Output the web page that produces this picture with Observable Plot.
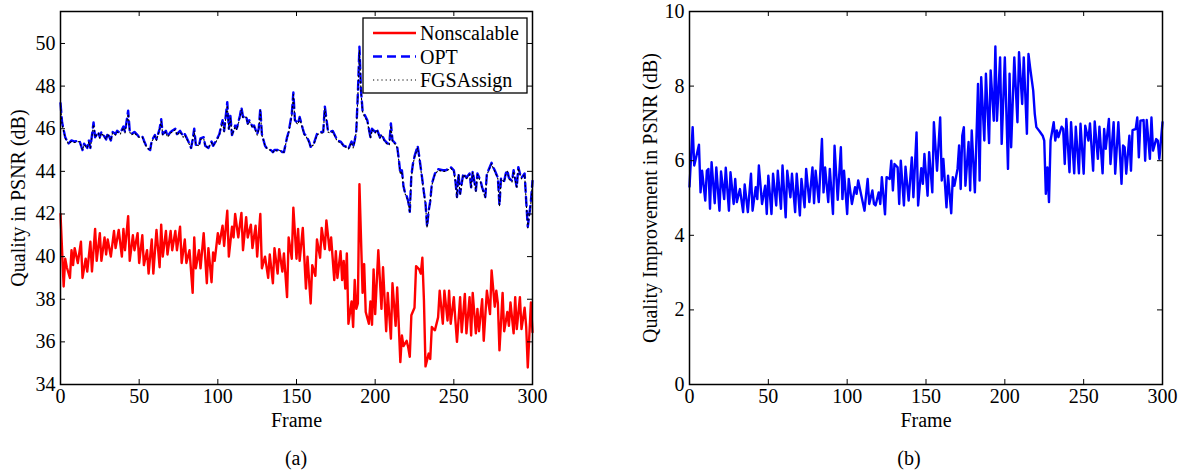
<!DOCTYPE html>
<html><head><meta charset="utf-8">
<script src="https://cdn.jsdelivr.net/npm/d3@7"></script>
<script src="https://cdn.jsdelivr.net/npm/@observablehq/plot@0.6"></script>
<style>
body{margin:0;background:#fff;}
#wrap{position:relative;width:1179px;height:471px;font-family:'Liberation Serif','DejaVu Serif',serif;color:#000;overflow:hidden;}
#wrap > svg, #wrap > div{position:absolute;top:0;}
#wrap svg text{font-family:'Liberation Serif','DejaVu Serif',serif !important;}
.cap{font-size:20px;transform:translate(-50%,-50%);white-space:nowrap;}
</style></head><body><div id="wrap"></div>
<script>
const xTicks = [0,50,100,150,200,250,300];
const yTicksA = [34,36,38,40,42,44,46,48,50];
const yTicksB = [0,2,4,6,8,10];
const seriesNames = ["Nonscalable","OPT","FGSAssign"];
const xLabel = "Frame";
const yLabelA = "Quality in PSNR (dB)";
const yLabelB = "Quality Improvement in PSNR (dB)";
const captions = ["(a)","(b)"];

const nsFrames = [0,2,3,4,6,7,8,9,11,13,
14,16,17,19,20,22,23,25,26,28,
29,30,32,34,35,37,39,40,41,43,
44,46,47,49,50,52,53,55,56,58,
59,61,63,64,65,67,68,70,71,73,
74,76,77,79,80,82,84,85,86,88,
89,91,93,94,96,97,98,100,101,103,
104,106,107,109,110,111,113,115,116,118,
119,121,122,124,125,127,128,130,132,133,
135,136,138,139,141,142,144,145,147,148,
150,151,152,154,156,157,159,160,162,163,
165,166,168,169,171,172,174,175,176,178,
179,180,181,182,183,185,186,187,188,189,
190,192,193,194,196,197,198,199,200,202,
204,205,207,208,210,211,213,214,216,217,
218,220,221,222,223,225,226,228,229,230,
231,232,234,235,236,237,238,240,241,243,
244,246,247,248,250,251,252,254,255,257,
258,260,261,262,264,265,266,268,269,271,
273,274,276,277,278,279,281,282,284,285,
286,288,289,290,292,293,295,296,297,299,300];
const nsValues = [42.0,38.6,39.9,39.5,39.0,40.3,39.6,40.4,39.7,40.7,
39.0,39.9,39.3,40.7,39.3,41.3,39.8,41.1,39.8,40.9,
40.1,40.8,40.0,41.2,40.4,41.25,40.0,41.3,40.3,41.9,
39.8,41.0,40.3,41.1,39.7,41.0,39.6,40.3,39.2,40.8,
39.2,41.25,39.5,41.5,40.0,41.2,40.1,41.2,40.3,41.2,
40.3,41.4,39.7,40.8,39.7,40.3,38.3,40.9,39.45,40.3,
39.45,41.1,38.75,40.4,38.8,40.2,39.8,41.1,40.6,41.45,
40.5,42.15,40.0,41.4,40.9,42.0,40.9,42.05,40.3,41.85,
40.9,41.5,40.4,41.45,40.0,42.0,39.45,40.0,39.0,40.1,
38.75,40.4,39.2,40.35,39.3,40.15,38.1,40.9,39.9,42.3,
39.9,41.3,39.8,41.35,38.5,40.0,37.8,39.6,39.1,40.8,
39.95,41.35,40.35,41.7,40.3,40.9,38.9,40.25,39.0,40.25,
38.9,39.8,38.5,40.15,36.85,37.9,36.7,38.9,37.55,37.8,
43.4,38.3,39.65,37.4,36.85,37.9,36.8,39.4,37.3,40.3,
37.55,39.5,36.5,38.3,36.15,38.75,36.75,38.55,35.05,36.3,
35.8,36.05,35.75,35.3,37.25,37.6,39.55,39.4,39.2,39.95,
37.95,34.85,35.45,35.2,36.7,36.6,36.55,37.15,38.4,36.85,
38.4,37.0,38.4,36.85,38.1,37.0,36.0,38.1,36.45,38.25,
36.4,38.1,36.3,38.3,36.4,37.55,36.5,38.0,36.05,38.4,
37.3,39.35,37.65,38.4,37.8,35.6,38.3,36.5,37.4,36.75,
37.85,36.4,38.1,36.6,38.1,36.6,37.6,36.7,34.8,37.85,36.45];

const optFrames = [0,1,3,5,7,9,12,14,15,17,
18,19,21,22,24,25,26,29,30,32,
33,35,36,38,40,41,43,44,45,47,
49,50,52,53,55,57,58,60,61,63,
64,65,67,68,70,71,73,74,76,78,
79,81,83,84,85,86,88,89,91,92,
94,96,97,99,101,102,103,104,106,107,
108,109,111,112,114,115,116,118,119,120,
122,123,125,126,127,128,130,131,133,135,
136,138,139,141,142,144,145,147,148,149,
151,152,154,155,156,158,159,161,163,165,
167,168,170,171,173,174,176,178,180,182,
183,185,186,187,188,189,190,191,192,193,
195,196,197,198,200,201,203,204,206,208,
209,210,211,213,214,215,216,217,218,219,
220,221,222,223,224,225,227,228,230,231,
232,233,234,235,236,238,240,243,245,246,
248,250,251,252,253,254,256,257,258,260,
261,262,264,265,267,268,270,271,272,274,
275,276,278,279,280,282,283,284,285,287,
288,290,291,292,293,295,296,297,299,300];
const optValues = [47.2,46.3,45.6,45.3,45.45,45.4,45.45,45.0,45.3,45.1,
45.45,45.1,46.3,45.6,45.85,45.6,45.85,45.5,45.8,45.45,
45.85,45.75,45.9,45.8,46.1,45.85,46.85,45.9,45.75,45.85,
45.7,45.6,45.65,45.45,45.1,45.0,45.45,45.7,45.5,46.0,
46.45,45.75,45.9,45.65,45.85,45.9,46.0,45.75,45.9,45.65,
45.75,45.45,45.1,45.5,46.0,45.25,45.2,45.55,45.6,45.2,
45.1,45.4,45.2,45.45,45.75,46.1,46.4,45.9,47.25,46.0,
46.6,45.7,46.15,46.0,46.6,47.0,46.55,46.6,46.25,46.4,
46.1,46.15,45.75,46.0,46.95,45.75,45.2,45.1,45.05,44.9,
45.0,45.0,45.05,44.9,44.9,45.6,45.85,46.7,47.7,46.4,
46.25,46.55,46.0,45.75,45.7,45.4,45.15,45.3,45.75,45.85,
45.85,47.05,45.9,45.85,45.9,45.75,45.45,45.4,45.2,45.15,
45.05,45.4,45.15,45.45,45.9,47.65,49.85,47.8,46.85,46.7,
46.4,46.0,45.6,46.0,45.85,46.0,45.6,45.75,45.45,45.3,
45.3,46.25,45.45,45.3,45.15,44.6,43.9,44.05,43.3,43.0,
42.85,42.6,42.1,43.8,44.35,44.7,45.2,44.7,43.6,43.0,
42.5,41.4,42.15,42.6,43.4,43.9,44.1,44.05,44.05,44.1,
44.2,44.05,43.55,42.8,43.9,42.95,43.9,43.8,43.7,43.9,
43.25,44.0,43.1,43.9,43.55,43.25,42.8,43.9,44.05,44.4,
44.2,44.05,43.7,42.4,43.7,43.55,43.9,44.05,43.7,43.55,
44.05,43.25,44.2,43.9,43.7,43.9,42.6,41.4,42.6,43.55];

const fgsFrames = optFrames.slice();
const fgsValues = [47.1,46.2,45.55,45.3,45.4,45.35,45.4,45.0,45.25,45.1,
45.4,45.1,46.2,45.6,45.8,45.55,45.8,45.5,45.75,45.45,
45.8,45.7,45.85,45.75,46.05,45.8,46.7,45.85,45.7,45.8,
45.65,45.6,45.6,45.4,45.1,45.0,45.4,45.65,45.45,45.95,
46.35,45.7,45.85,45.6,45.8,45.85,45.95,45.7,45.85,45.6,
45.7,45.4,45.1,45.45,45.9,45.25,45.2,45.5,45.55,45.2,
45.1,45.35,45.2,45.4,45.7,46.05,46.3,45.85,47.1,45.95,
46.5,45.7,46.1,45.95,46.5,46.9,46.5,46.55,46.2,46.35,
46.05,46.1,45.7,45.95,46.85,45.7,45.2,45.1,45.0,44.9,
45.0,44.95,45.0,44.9,44.9,45.55,45.8,46.6,47.6,46.35,
46.2,46.5,45.95,45.7,45.65,45.35,45.15,45.25,45.7,45.8,
45.8,46.95,45.85,45.8,45.85,45.7,45.4,45.35,45.2,45.1,
45.05,45.35,45.1,45.4,45.85,47.5,49.7,47.7,46.8,46.6,
46.35,45.95,45.55,45.95,45.8,45.95,45.55,45.7,45.4,45.25,
45.25,46.15,45.4,45.25,45.1,44.5,43.85,44.0,43.25,42.95,
42.8,42.55,42.05,43.7,44.3,44.65,45.1,44.65,43.55,42.95,
42.45,41.35,42.1,42.55,43.35,43.85,44.05,44.0,44.0,44.05,
44.15,44.0,43.5,42.75,43.85,42.9,43.85,43.75,43.65,43.85,
43.2,43.95,43.05,43.85,43.5,43.2,42.75,43.85,44.0,44.35,
44.15,44.0,43.65,42.35,43.65,43.5,43.85,44.0,43.65,43.5,
44.0,43.2,44.15,43.85,43.65,43.85,42.55,41.35,42.55,43.5];

const impFrames = [0,2,3,4,6,7,8,10,11,12,
13,14,16,17,19,20,22,23,25,26,
28,29,30,32,34,35,37,39,40,42,
43,44,46,48,49,50,52,53,55,56,
58,59,61,62,64,65,67,68,70,71,
73,74,76,78,79,80,82,84,85,86,
88,89,91,92,94,96,97,98,100,101,
103,105,106,107,109,111,113,114,116,117,
118,120,121,122,124,125,127,128,129,130,
132,133,134,136,137,139,141,142,144,145,
147,148,149,151,152,154,155,157,159,160,
161,163,164,166,167,168,170,171,172,173,
174,175,177,178,179,181,183,184,185,187,
188,190,191,193,194,195,197,198,200,202,
203,204,206,208,209,211,212,214,215,216,
218,219,220,222,224,225,226,227,228,229,
231,232,233,234,236,237,238,239,241,242,
244,245,247,248,250,251,253,254,256,257,
259,260,262,263,264,266,267,269,270,272,
274,275,276,277,279,280,281,283,284,285,
286,288,289,290,292,293,294,296,297,298,300];
const impValues = [5.3,6.9,5.87,6.05,6.43,5.15,5.73,4.93,5.73,5.78,
4.71,5.96,4.86,5.82,4.66,5.71,4.97,5.81,4.66,5.69,
4.84,5.51,4.89,5.24,4.62,5.36,4.62,5.65,4.66,5.29,
4.97,5.87,4.84,5.33,4.57,5.6,4.57,5.65,4.8,5.73,
4.71,5.87,4.48,5.73,5.02,5.65,4.62,5.65,4.53,5.51,
4.75,5.78,4.89,5.82,4.86,5.73,4.89,6.58,5.15,5.82,
4.89,5.78,4.57,6.4,4.95,6.36,4.97,5.73,4.57,5.51,
4.84,5.29,5.11,5.47,5.06,4.66,5.51,4.84,5.2,4.84,
4.8,5.15,4.84,5.56,4.56,5.56,5.51,6.0,5.2,5.91,
5.82,4.84,6.0,4.8,5.84,4.93,6.09,5.02,6.76,4.8,
5.8,5.38,6.18,5.06,6.23,5.15,7.03,5.73,7.16,5.47,
6.05,4.75,5.6,4.59,5.56,5.33,5.78,6.41,5.24,6.67,
6.9,5.33,6.5,5.2,6.81,5.15,8.06,5.47,8.24,6.54,
8.33,6.47,8.42,7.07,9.06,7.07,8.77,6.45,8.77,5.78,
8.33,6.36,8.77,7.03,8.91,7.52,8.77,6.72,8.86,8.51,
7.88,7.25,6.9,6.79,6.67,6.54,5.11,5.82,4.89,6.54,
7.03,6.54,6.81,6.63,6.91,6.85,5.91,7.12,5.69,7.03,
5.66,6.91,5.66,6.99,5.65,6.94,6.54,7.0,5.73,7.05,
6.05,6.91,5.66,6.85,6.32,7.12,5.91,7.03,5.65,7.03,
5.38,6.41,6.36,5.65,6.67,5.73,6.82,6.85,7.16,6.09,
7.07,7.09,6.0,7.09,6.05,7.16,6.27,6.58,6.54,6.05,7.03];

function rows(frames, values){ return frames.map((f,i)=>({frame:f, value:values[i]})); }

const FONT = "Liberation Serif, DejaVu Serif, serif";
const H = 430, MT = 11, MB = 46;

function panel({width, ml, mr, yDomain, yTicks, yLabel, yLabelDx, lines}) {
  const innerW = width - ml - mr, innerH = H - MT - MB;
  return Plot.plot({
    width, height: H, marginLeft: ml, marginRight: mr, marginTop: MT, marginBottom: MB,
    x: {domain: [0, 300]},
    y: {domain: yDomain},
    style: {fontFamily: FONT, fontSize: "20px", color: "#000", background: "transparent", overflow: "visible"},
    marks: [
      ...lines,
      Plot.tickX(xTicks, {x: d => d, insetTop: innerH - 5, stroke: "#000", strokeWidth: 1}),
      Plot.tickX(xTicks, {x: d => d, insetBottom: innerH - 5, stroke: "#000", strokeWidth: 1}),
      Plot.tickY(yTicks, {y: d => d, insetRight: innerW - 5, stroke: "#000", strokeWidth: 1}),
      Plot.tickY(yTicks, {y: d => d, insetLeft: innerW - 5, stroke: "#000", strokeWidth: 1}),
      Plot.axisX({ticks: xTicks, tickSize: 0, tickPadding: 4, label: null, fontSize: 20, tickFormat: d => String(d)}),
      Plot.axisY({ticks: yTicks, tickSize: 0, tickPadding: 5, label: null, fontSize: 20, tickFormat: d => String(d)}),
      Plot.frame({stroke: "#000", strokeWidth: 1.5}),
      Plot.text([xLabel], {frameAnchor: "bottom", lineAnchor: "middle", textAnchor: "middle", dy: 36, fontSize: 20, fill: "#000"}),
      Plot.text([yLabel], {frameAnchor: "left", lineAnchor: "middle", textAnchor: "middle", rotate: -90, dx: yLabelDx, fontSize: 20, fill: "#000"})
    ]
  });
}

const styleNS = {stroke: "#ff0000", strokeWidth: 2.4};
const styleOPT = {stroke: "#0000ff", strokeWidth: 2.4, strokeDasharray: "9,5"};
const styleFGS = {stroke: "#000", strokeWidth: 1.1, strokeDasharray: "1.2,3"};

const plotA = panel({
  width: 590, ml: 60, mr: 58, yDomain: [34, 51.5], yTicks: yTicksA, yLabel: yLabelA, yLabelDx: -42,
  lines: [
    Plot.line(rows(nsFrames, nsValues), {x: "frame", y: "value", ...styleNS}),
    Plot.line(rows(optFrames, optValues), {x: "frame", y: "value", ...styleOPT}),
    Plot.line(rows(fgsFrames, fgsValues), {x: "frame", y: "value", ...styleFGS})
  ]
});
const plotB = panel({
  width: 589, ml: 99, mr: 17, yDomain: [0, 10], yTicks: yTicksB, yLabel: yLabelB, yLabelDx: -39,
  lines: [
    Plot.line(rows(impFrames, impValues), {x: "frame", y: "value", stroke: "#0000ff", strokeWidth: 2.4})
  ]
});

const wrap = document.getElementById("wrap");
plotA.style.left = "0px";
plotB.style.left = "590px";
wrap.appendChild(plotA);
wrap.appendChild(plotB);

// legend inside panel (a)
const lg = d3.select(wrap).append("svg")
  .attr("width", 170).attr("height", 80)
  .style("left", "362px").style("top", "17px").style("position", "absolute");
lg.append("rect").attr("x", 1).attr("y", 1).attr("width", 164).attr("height", 75)
  .attr("fill", "#fff").attr("stroke", "#000").attr("stroke-width", 1.3);
const lstyles = [styleNS, styleOPT, styleFGS];
seriesNames.forEach((name, i) => {
  const cy = 16 + i * 23.5;
  const s = lstyles[i];
  lg.append("line").attr("x1", 11).attr("x2", 54).attr("y1", cy).attr("y2", cy)
    .attr("stroke", s.stroke).attr("stroke-width", s.strokeWidth)
    .attr("stroke-dasharray", s.strokeDasharray || null);
  lg.append("text").attr("x", 58).attr("y", cy).attr("dy", "0.35em")
    .attr("font-family", FONT).attr("font-size", 20).attr("fill", "#000").text(name);
});

// captions
[[296, captions[0]], [909, captions[1]]].forEach(([x, t]) => {
  const d = document.createElement("div");
  d.className = "cap";
  d.style.left = x + "px";
  d.style.top = "458px";
  d.textContent = t;
  wrap.appendChild(d);
});
</script></body></html>
